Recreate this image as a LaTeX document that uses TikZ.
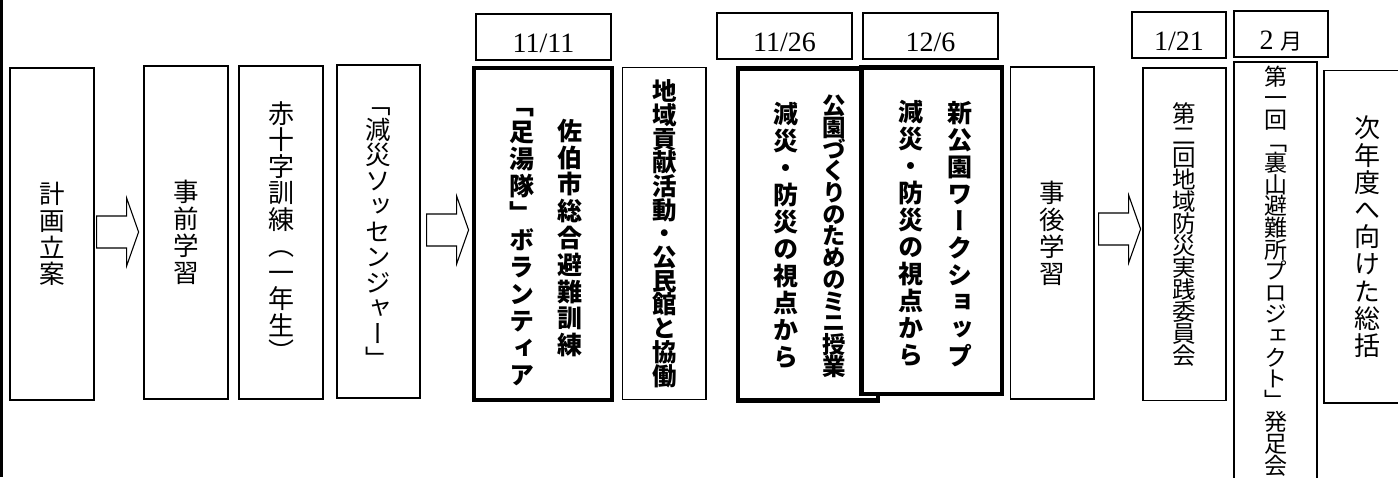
\documentclass[tikz,border=0pt]{standalone}
\usepackage{fontspec}
\setmainfont{Liberation Serif}
\newfontfamily\tatefont[RawFeature=+vert]{Noto Sans CJK JP}
\newfontfamily\cjkfont{Noto Sans CJK JP}
\usetikzlibrary{calc}
\tikzset{
	defaultstyle/.style={
		x=1pt, y=-1pt,
		line join=miter}}
\makeatletter
% size, pitch, text (one character a line)
\newcommand\tate[3]{\vbox{\tatefont\fontsize{#1}{#2}\selectfont\lineskiplimit=-100pt
		\@tfor\tc:=#3\do{\hbox to 1em{\hss\tc\hss\vrule height .88em depth .12em width 0pt}}}}
\makeatother
\newcommand\flowarrow[1]{\draw[flowarrow, shift={#1}] (0,-16) -- (30,-16) -- (30,-34) -- (42,0) -- (30,34) -- (30,16) -- (0,16) -- cycle;}

\begin{document}
\begin{tikzpicture}[defaultstyle,
	box/.style={draw, line width=1.2pt, inner sep=0pt, fill=white},
	keybox/.style={draw, line width=4.5pt, inner sep=0pt, fill=white},
	datebox/.style={draw, line width=1.4pt, inner sep=0pt, text height=30pt, text depth=0pt,
		minimum height=46, font=\fontsize{28}{28}\selectfont},
	flowarrow/.style={draw, line width=1.1pt, fill=white},
	]
	\useasboundingbox (0,0) rectangle (1398,477);
	\clip (0,0) rectangle (1398,477);
	\fill (0,0) rectangle (3,477);
	
	\node[box, minimum width=84, minimum height=332] (plan) at (52,234) {\tate{25.5}{26.7}{計画立案}};
	\node[box, minimum width=84, minimum height=333] (pre) at (186,232.5) {\tate{25.5}{27}{事前学習}};
	\node[box, minimum width=84, minimum height=333] (redcross) at (281,232.5) {\tate{26}{26.5}{赤十字訓練（一年生）}};
	\node[box, minimum width=83, minimum height=333] (messenger) at (378.5,231.5) {\tate{25.5}{25.5}{「減災ソッセンジャー」}};
	
	\node[keybox, minimum width=138, minimum height=332] (saiki) at (543,234) {};
	\node (saikiA) at (570,238) {\bfseries\tate{25}{26.8}{佐伯市総合避難訓練}};
	\node (saikiB) at (522,240) {\bfseries\tate{25}{27}{「足湯隊」ボランティア}};
	
	\node[box, minimum width=83.5, minimum height=332] (region) at (664.25,233.5) {\bfseries\tate{24.5}{23.7}{地域貢献活動・公民館と協働}};
	
	\node[keybox, minimum width=140, minimum height=332] (park) at (808,234.5) {};
	\node[keybox, minimum width=140.5, minimum height=326.5] (newpark) at (931.75,230.75) {};
	\node (parkA) at (834,236) {\bfseries\tate{23.5}{21.7}{公園づくりのためのミニ授業}};
	\node (parkB) at (786,235) {\bfseries\tate{25}{27}{減災・防災の視点から}};
	\node (newparkA) at (960,234) {\bfseries\tate{25}{27}{新公園ワークショップ}};
	\node (newparkB) at (911,233.5) {\bfseries\tate{25}{27}{減災・防災の視点から}};
	
	\node[box, minimum width=83.5, minimum height=332] (post) at (1052.25,233) {\tate{25.5}{27}{事後学習}};
	\node[box, minimum width=83, minimum height=332.5] (committee) at (1184.5,234.25) {\tate{23.5}{22}{第二回地域防災実践委員会}};
	\node[box, minimum width=83, minimum height=418] (urayama) at (1275.5,271) {\tate{23}{21.6}{第一回「裏山避難所プロジェクト」発足会}};
	\node[box, minimum width=86, minimum height=332.5] (review) at (1367,236.75) {\tate{26}{27.2}{次年度へ向けた総括}};
	
	\node[datebox, minimum width=135] (d1) at (543.5,37) {11/11};
	\node[datebox, minimum width=135] (d2) at (784.5,36) {11/26};
	\node[datebox, minimum width=135] (d3) at (930.5,36) {12/6};
	\node[datebox, minimum width=94] (d4) at (1179,35) {1/21};
	\node[datebox, minimum width=94] (d5) at (1281,34) {2 {\cjkfont\fontsize{22}{22}\selectfont 月}};
	
	\flowarrow{($(plan.east)+(2,-2)$)}
	\flowarrow{($(messenger.east)+(6,-1.5)$)}
	\flowarrow{($(post.east)+(4,-4)$)}
	
\end{tikzpicture}
\end{document}
